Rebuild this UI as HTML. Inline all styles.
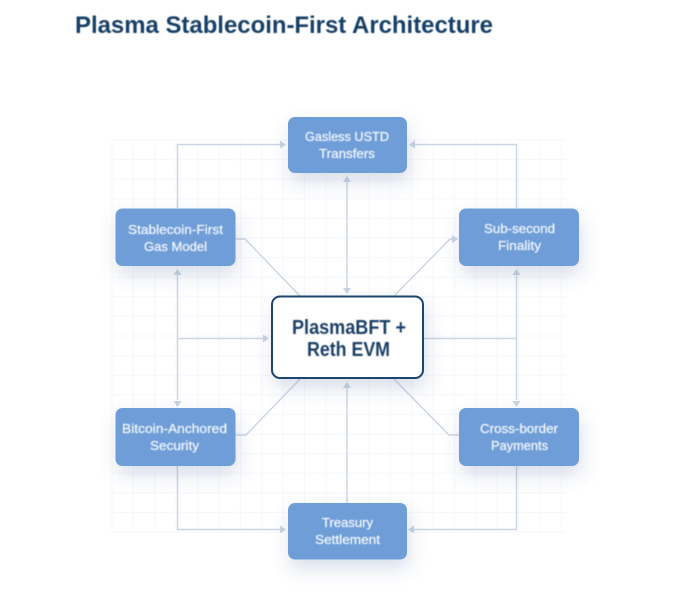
<!DOCTYPE html>
<html lang="en">
<head>
<meta charset="utf-8">
<title>Plasma Stablecoin-First Architecture</title>
<style>
html,body{margin:0;padding:0;background:#fff;width:674px;height:608px;overflow:hidden}
svg{display:block;font-family:"Liberation Sans",sans-serif}
.g{stroke:#f6f7fb;stroke-width:1;fill:none}
.c{stroke:#cbd5e4;stroke-width:1.4;fill:none}
.a{fill:#c8d3e3}
.n{fill:#6e9dd8}
.t{fill:#f3f7fc;font-size:13px;font-weight:400;text-anchor:middle;stroke:#f3f7fc;stroke-width:.25}
.b{fill:#1b3f66;font-size:20px;font-weight:700;text-anchor:middle}
</style>
</head>
<body>
<svg width="674" height="608" viewBox="0 0 674 608" xmlns="http://www.w3.org/2000/svg">
<defs>
<filter id="s" x="-30%" y="-30%" width="160%" height="200%">
<feDropShadow dx="2" dy="9" stdDeviation="9" flood-color="#3f6299" flood-opacity="0.2"/>
</filter>
<filter id="soft" x="-5%" y="-20%" width="110%" height="140%"><feGaussianBlur stdDeviation="0.4"/></filter>
<filter id="lines" x="-5%" y="-5%" width="110%" height="110%" filterUnits="objectBoundingBox"><feGaussianBlur stdDeviation="0.35"/></filter>
</defs>
<rect width="674" height="608" fill="#fff"/>
<g class="g">
<path d="M112 140V532M133.400 140V532M154.800 140V532M176.200 140V532M197.600 140V532M219 140V532M240.400 140V532M261.800 140V532M283.200 140V532M304.600 140V532M326 140V532M347.400 140V532M368.800 140V532M390.200 140V532M411.600 140V532M433 140V532M454.400 140V532M475.800 140V532M497.200 140V532M518.600 140V532M540 140V532M561.400 140V532"/>
<path d="M112 140H567M112 159.600H567M112 179.200H567M112 198.800H567M112 218.400H567M112 238H567M112 257.600H567M112 277.200H567M112 296.800H567M112 316.400H567M112 336H567M112 355.600H567M112 375.200H567M112 394.800H567M112 414.400H567M112 434H567M112 453.600H567M112 473.200H567M112 492.800H567M112 512.400H567M112 532H567"/>
</g>

<g filter="url(#lines)">
<g class="c">
<path d="M177.500 208V144.500H282"/>
<path d="M516.500 208V144.500H414"/>
<path d="M177.500 466V529.500H282"/>
<path d="M516.500 466V529.500H414"/>
<path d="M177.500 275V400"/>
<path d="M177.500 338.500H263"/>
<path d="M423 338.500H516.500"/>
<path d="M516.500 275V400"/>
<path d="M347 181V288"/>
<path d="M347 503V387"/>
<path d="M236 239H245L300 296"/>
<path d="M395 295L450 239H453"/>
<path d="M236 435H246L300 379"/>
<path d="M394 379L449 435H459"/>
</g>
<g class="a">
<path d="M286 144.500L280 140.500V148.500Z"/>
<path d="M409 144.500L415 140.500V148.500Z"/>
<path d="M286 529.500L280 525.500V533.500Z"/>
<path d="M408 529.500L414 525.500V533.500Z"/>
<path d="M177.500 269L173.500 275H181.500Z"/>
<path d="M177.500 407L173.500 401H181.500Z"/>
<path d="M269 338.500L263 334.500V342.500Z"/>
<path d="M516.500 269L512.500 275H520.500Z"/>
<path d="M516.500 407L512.500 401H520.500Z"/>
<path d="M347 176L343 182H351Z"/>
<path d="M347 294L343 288H351Z"/>
<path d="M347 382L343 388H351Z"/>
<path d="M458 239L452 235V243Z"/>
</g>
</g>

<rect class="n" filter="url(#s)" x="288" y="117" width="119" height="56" rx="7"/>
<rect class="n" filter="url(#s)" x="115.500" y="208.500" width="120" height="57.500" rx="7"/>
<rect class="n" filter="url(#s)" x="459" y="208.500" width="120" height="57.500" rx="7"/>
<rect class="n" filter="url(#s)" x="115.500" y="408" width="120" height="58" rx="7"/>
<rect class="n" filter="url(#s)" x="459" y="408" width="120" height="58" rx="7"/>
<rect class="n" filter="url(#s)" x="288" y="503" width="119" height="56.500" rx="7"/>
<rect x="272" y="296.500" width="151" height="81.500" rx="8" fill="#fff" stroke="#1b4470" stroke-width="2" filter="url(#s)"/>

<g filter="url(#soft)">
<text x="75" y="33" font-size="24" font-weight="700" fill="#173f66" textLength="418" lengthAdjust="spacingAndGlyphs">Plasma Stablecoin-First Architecture</text>
<text class="b" x="349" y="334" textLength="114" lengthAdjust="spacingAndGlyphs">PlasmaBFT +</text>
<text class="b" x="348.500" y="356" textLength="83" lengthAdjust="spacingAndGlyphs">Reth EVM</text>
<text class="t" x="347" y="141" textLength="84" lengthAdjust="spacingAndGlyphs">Gasless USTD</text>
<text class="t" x="347" y="158" textLength="56" lengthAdjust="spacingAndGlyphs">Transfers</text>
<text class="t" x="175.500" y="234" textLength="95" lengthAdjust="spacingAndGlyphs">Stablecoin-First</text>
<text class="t" x="175.500" y="251" textLength="63" lengthAdjust="spacingAndGlyphs">Gas Model</text>
<text class="t" x="519.500" y="233" textLength="71" lengthAdjust="spacingAndGlyphs">Sub-second</text>
<text class="t" x="519.500" y="250" textLength="43" lengthAdjust="spacingAndGlyphs">Finality</text>
<text class="t" x="174.500" y="433" textLength="105" lengthAdjust="spacingAndGlyphs">Bitcoin-Anchored</text>
<text class="t" x="174.500" y="450" textLength="49" lengthAdjust="spacingAndGlyphs">Security</text>
<text class="t" x="519" y="433" textLength="78" lengthAdjust="spacingAndGlyphs">Cross-border</text>
<text class="t" x="519.500" y="450" textLength="57" lengthAdjust="spacingAndGlyphs">Payments</text>
<text class="t" x="347.500" y="527" textLength="51" lengthAdjust="spacingAndGlyphs">Treasury</text>
<text class="t" x="347.500" y="544" textLength="65" lengthAdjust="spacingAndGlyphs">Settlement</text>
</g>
</svg>
</body>
</html>
